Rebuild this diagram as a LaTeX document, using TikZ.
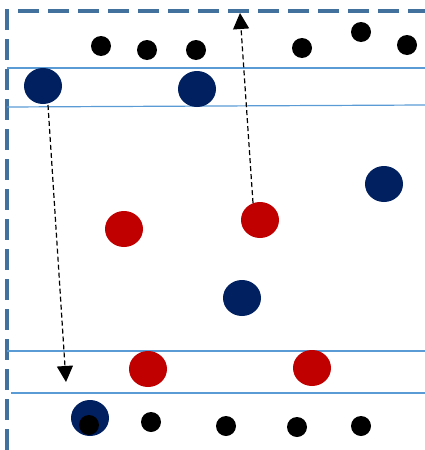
\documentclass[tikz,border=0pt]{standalone}
\usetikzlibrary{arrows.meta,shapes.geometric}
\definecolor{borderblue}{HTML}{41719C}
\definecolor{lineblue}{HTML}{5B9BD5}
\definecolor{navy}{HTML}{002060}
\definecolor{redc}{HTML}{C00000}
\begin{document}
\begin{tikzpicture}[x=1pt,y=-1pt,
  bigdot/.style={ellipse,fill=#1,draw=none,minimum width=38pt,minimum height=36pt,inner sep=0pt},
  smalldot/.style={circle,fill=black,draw=none,minimum size=20pt,inner sep=0pt},
  band/.style={draw=lineblue,line width=1.2pt},
  frame/.style={draw=borderblue,line width=3.2pt,dash pattern=on 21pt off 9pt},
  move/.style={draw=black,line width=1.2pt,dash pattern=on 5pt off 3pt,-{Triangle[length=16pt,width=16pt]}}]
\useasboundingbox (0,0) rectangle (425,450);
% frame
\draw[frame] (7,450) -- (7,11) -- (425,11);
% bands
\draw[band] (7,68) -- (425,68);
\draw[band] (7,107) -- (425,105);
\draw[band] (7,351) -- (425,351);
\draw[band] (11,393) -- (425,393);
% big circles
\node[bigdot=navy] (n1) at (43,86) {};
\node[bigdot=navy] (n2) at (197,89) {};
\node[bigdot=navy] (n3) at (384,184) {};
\node[bigdot=navy] (n4) at (242,298) {};
\node[bigdot=navy] (n5) at (90,418) {};
\node[bigdot=redc] (r1) at (124,229) {};
\node[bigdot=redc] (r2) at (260,220) {};
\node[bigdot=redc] (r3) at (148,369) {};
\node[bigdot=redc] (r4) at (312,368) {};
% small black dots
\node[smalldot] (b1) at (101,46) {};
\node[smalldot] (b2) at (147,50) {};
\node[smalldot] (b3) at (196,50) {};
\node[smalldot] (b4) at (302,48) {};
\node[smalldot] (b5) at (361,32) {};
\node[smalldot] (b6) at (407,45) {};
\node[smalldot] (b7) at (89,425) {};
\node[smalldot] (b8) at (151,422) {};
\node[smalldot] (b9) at (226,426) {};
\node[smalldot] (b10) at (297,427) {};
\node[smalldot] (b11) at (361,426) {};
% arrows
\coordinate (a1s) at (48,105);
\coordinate (a1e) at (66,382);
\coordinate (a2s) at (253,203);
\coordinate (a2e) at (240,13);
\draw[move] (a1s) -- (a1e);
\draw[move] (a2s) -- (a2e);
\end{tikzpicture}
\end{document}
